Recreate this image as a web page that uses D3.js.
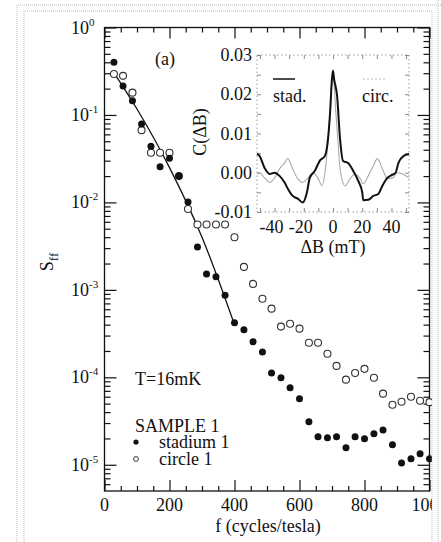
<!DOCTYPE html>
<html>
<head>
<meta charset="utf-8">
<script src="https://cdn.jsdelivr.net/npm/d3@7"></script>
<style>
  body { margin: 0; background: #fff; }
  svg, svg text { font-family: "Liberation Serif", "Times New Roman", "DejaVu Serif", serif; }
  svg text { fill: #111; }
</style>
</head>
<body>
<div id="chart"></div>
<script>
// main panel: power spectrum vs frequency
const freq = [29, 57, 86, 114, 143, 171, 200, 229, 257, 286, 314, 343, 371, 400, 429,
  457, 486, 514, 543, 571, 600, 629, 657, 686, 714, 743, 771, 800, 829, 857,
  886, 914, 943, 971, 1000];
const stadium = [0.40, 0.214, 0.145, 0.079, 0.044, 0.0255, 0.032, 0.020, 0.0101, 0.0031,
  0.00152, 0.00141, 0.00087, 4.2e-4, 3.5e-4, 2.55e-4, 1.95e-4, 1.12e-4, 9.9e-5, 7.6e-5,
  5.7e-5, 3.1e-5, 2.09e-5, 2.04e-5, 2.09e-5, 1.56e-5, 2.09e-5, 1.98e-5, 2.26e-5, 2.5e-5,
  1.69e-5, 1.05e-5, 1.17e-5, 1.34e-5, 1.17e-5];
const circle = [0.294, 0.28, 0.18, 0.067, 0.037, 0.037, 0.037, 0.020, 0.0084, 0.0056,
  0.0056, 0.0056, 0.0056, 0.0040, 0.00183, 0.00117, 7.9e-4, 6.1e-4, 3.8e-4, 4.1e-4,
  3.6e-4, 2.48e-4, 2.48e-4, 1.86e-4, 1.35e-4, 9.4e-5, 1.12e-4, 1.25e-4, 9.9e-5, 6.5e-5,
  4.85e-5, 5.25e-5, 6.0e-5, 5.4e-5, 5.2e-5];
const fitF = [25, 100, 200, 300, 400];
const fitS = [0.32, 0.117, 0.025, 0.0040, 4.0e-4];

const xTicks = [0, 200, 400, 600, 800, 1000];
const yExps = [0, -1, -2, -3, -4, -5];

// inset: correlation function
const stadB = [-52, -50.3, -46.9, -43.4, -40, -36.6, -33.1, -31, -27.6, -24.1, -20.7, -17.9,
  -15.9, -12.4, -9, -5.5, -3.4, -2, -0.7, 0, 0.7, 2.8, 4.8, 6.9, 10.3, 13.8, 17.2, 20,
  20.7, 24.1, 27.6, 31, 33.8, 37.2, 40.7, 42.8, 44.8, 48.3, 52];
const stadC = [0.0048, 0.0043, 0.0013, -0.0003, 0.0, -0.0008, -0.0025, -0.004, -0.0059, -0.0066,
  -0.0076, -0.0051, -0.0013, 0.0005, 0.0031, 0.0043, 0.0087, 0.0153, 0.024, 0.026, 0.024,
  0.0196, 0.0087, 0.003, 0.0025, 0.0005, -0.002, -0.005, -0.007, -0.0069, -0.0059, -0.0054,
  -0.0033, -0.0013, -0.0005, 0.0, 0.0025, 0.0043, 0.0048];
const circB = [-52, -50.3, -46.9, -43.4, -40, -36.6, -33.1, -31, -27.6, -24.1, -20.7, -17.2,
  -13.8, -10.3, -7.6, -5.5, -3.4, -2, -0.7, 0, 0.7, 2, 3.4, 4.8, 8.3, 11.7, 15.2, 18.6,
  20.7, 24.1, 27.6, 30.3, 33.8, 37.2, 40.7, 44.1, 47.6, 52];
const circC = [-0.0003, 0.0, -0.0013, -0.0025, -0.0013, 0.001, 0.0025, 0.0036, 0.001, -0.0015,
  -0.0025, -0.0013, 0.0, -0.0013, -0.0033, 0.0, 0.008, 0.015, 0.023, 0.0255, 0.023, 0.015,
  0.008, 0.001, -0.0033, -0.0015, -0.0003, -0.0015, -0.0028, -0.0008, 0.0018, 0.0036, 0.001,
  -0.0015, -0.0013, 0.0, -0.0003, -0.0013];
const insetXTicks = [-40, -20, 0, 20, 40];
const insetYTicks = [0.03, 0.02, 0.01, 0.00, -0.01];

const W = 441, H = 542;
const FONT = '"Liberation Serif", "Times New Roman", serif';
const svg = d3.select("#chart").append("svg").attr("width", W).attr("height", H)
  .attr("font-family", FONT);

const plot = { left: 104.5, right: 429.5, top: 27.5, bottom: 491 };
const x = d3.scaleLinear().domain([0, 1000]).range([plot.left, plot.right]);
const y = d3.scaleLog().domain([Math.pow(10, -5.3), 1]).range([plot.bottom, plot.top]);

// frame
svg.append("rect")
  .attr("x", plot.left).attr("y", plot.top)
  .attr("width", plot.right - plot.left).attr("height", plot.bottom - plot.top)
  .attr("fill", "none").attr("stroke", "#111").attr("stroke-width", 1.3);

// log minor ticks
const minorY = [];
for (let e = -6; e <= 0; e++) {
  for (let m = 2; m <= 9; m++) {
    const v = m * Math.pow(10, e);
    if (v >= y.domain()[0] && v <= 1) minorY.push(v);
  }
}
const majorY = yExps.map(e => Math.pow(10, e));
const minorX = d3.range(0, 1001, 50).filter(v => v % 200 !== 0);

function tickAxis(axis, g) {
  g.call(axis.tickFormat("").tickSizeOuter(0))
    .call(s => s.select(".domain").remove())
    .call(s => s.selectAll("line").attr("stroke", "#111").attr("stroke-width", 1.2));
}

tickAxis(d3.axisRight(y).tickValues(minorY).tickSize(6),
  svg.append("g").attr("transform", `translate(${plot.left},0)`));
tickAxis(d3.axisRight(y).tickValues(majorY).tickSize(12),
  svg.append("g").attr("transform", `translate(${plot.left},0)`));
tickAxis(d3.axisLeft(y).tickValues(minorY).tickSize(6),
  svg.append("g").attr("transform", `translate(${plot.right},0)`));
tickAxis(d3.axisLeft(y).tickValues(majorY).tickSize(12),
  svg.append("g").attr("transform", `translate(${plot.right},0)`));
tickAxis(d3.axisTop(x).tickValues(minorX).tickSize(5),
  svg.append("g").attr("transform", `translate(0,${plot.bottom})`));
tickAxis(d3.axisTop(x).tickValues(xTicks).tickSize(11),
  svg.append("g").attr("transform", `translate(0,${plot.bottom})`));
tickAxis(d3.axisBottom(x).tickValues(minorX).tickSize(5),
  svg.append("g").attr("transform", `translate(0,${plot.top})`));
tickAxis(d3.axisBottom(x).tickValues(xTicks).tickSize(11),
  svg.append("g").attr("transform", `translate(0,${plot.top})`));

// x tick labels
svg.append("g").selectAll("text").data(xTicks).join("text")
  .attr("x", d => x(d)).attr("y", 511)
  .attr("text-anchor", "middle").attr("font-size", 18)
  .text(d => d);

// y tick labels 10^n
const yl = svg.append("g").selectAll("text").data(yExps).join("text")
  .attr("x", 71).attr("y", d => y(Math.pow(10, d)) + 6)
  .attr("font-size", 18);
yl.append("tspan").text("10");
yl.append("tspan").attr("dy", -8).attr("font-size", 11)
  .text(d => d === 0 ? "0" : "-" + Math.abs(d));

// axis titles
svg.append("text").attr("x", 268).attr("y", 532)
  .attr("text-anchor", "middle").attr("font-size", 18).text("f (cycles/tesla)");
const yt = svg.append("text").attr("transform", "translate(53,262) rotate(-90)")
  .attr("text-anchor", "middle").attr("font-size", 18);
yt.append("tspan").text("S");
yt.append("tspan").attr("dy", 5).attr("font-size", 13).text("ff");

// fit line
svg.append("path")
  .datum(fitF.map((f, i) => [f, fitS[i]]))
  .attr("fill", "none").attr("stroke", "#111").attr("stroke-width", 1.3)
  .attr("d", d3.line().x(d => x(d[0])).y(d => y(d[1])).curve(d3.curveMonotoneX));

// data points
svg.append("g").selectAll("circle").data(freq.map((f, i) => [f, circle[i]])).join("circle")
  .attr("cx", d => x(d[0])).attr("cy", d => y(d[1])).attr("r", 3.5)
  .attr("fill", "#fff").attr("stroke", "#333").attr("stroke-width", 1.1);
svg.append("g").selectAll("circle").data(freq.map((f, i) => [f, stadium[i]])).join("circle")
  .attr("cx", d => x(d[0])).attr("cy", d => y(d[1])).attr("r", 3.5)
  .attr("fill", "#111");

// annotations
svg.append("text").attr("x", 155).attr("y", 65).attr("font-size", 18).text("(a)");
svg.append("text").attr("x", 135).attr("y", 385).attr("font-size", 18).text("T=16mK");
svg.append("text").attr("x", 135).attr("y", 432).attr("font-size", 18).text("SAMPLE 1");
svg.append("circle").attr("cx", 136).attr("cy", 442).attr("r", 2.6).attr("fill", "#111");
svg.append("text").attr("x", 159).attr("y", 448).attr("font-size", 18).text("stadium 1");
svg.append("circle").attr("cx", 136).attr("cy", 459).attr("r", 2.4)
  .attr("fill", "#fff").attr("stroke", "#333");
svg.append("text").attr("x", 159).attr("y", 465).attr("font-size", 18).text("circle 1");

// inset
const ins = { left: 257, right: 409, top: 55, bottom: 212 };
const ix = d3.scaleLinear().domain([-52, 52]).range([ins.left, ins.right]);
const iy = d3.scaleLinear().domain([-0.01, 0.03]).range([ins.bottom, ins.top]);

svg.append("rect")
  .attr("x", ins.left).attr("y", ins.top)
  .attr("width", ins.right - ins.left).attr("height", ins.bottom - ins.top)
  .attr("fill", "none").attr("stroke", "#999").attr("stroke-width", 1)
  .attr("stroke-dasharray", "1.5,2.5");

function insetTicks(axis, g) {
  g.call(axis.tickFormat("").tickSizeOuter(0))
    .call(s => s.select(".domain").remove())
    .call(s => s.selectAll("line").attr("stroke", "#888").attr("stroke-width", 1));
}
const insXMinor = d3.range(-50, 51, 10);
const insYMinor = d3.range(-0.01, 0.0301, 0.005);
insetTicks(d3.axisTop(ix).tickValues(insXMinor).tickSize(4),
  svg.append("g").attr("transform", `translate(0,${ins.bottom})`));
insetTicks(d3.axisBottom(ix).tickValues(insXMinor).tickSize(4),
  svg.append("g").attr("transform", `translate(0,${ins.top})`));
insetTicks(d3.axisRight(iy).tickValues(insYMinor).tickSize(4),
  svg.append("g").attr("transform", `translate(${ins.left},0)`));
insetTicks(d3.axisLeft(iy).tickValues(insYMinor).tickSize(4),
  svg.append("g").attr("transform", `translate(${ins.right},0)`));

svg.append("g").selectAll("text").data(insetYTicks).join("text")
  .attr("x", 252).attr("y", d => iy(d) + 6)
  .attr("text-anchor", "end").attr("font-size", 18)
  .text(d => d.toFixed(2));
svg.append("g").selectAll("text").data(insetXTicks).join("text")
  .attr("x", d => ix(d) - (d < 0 ? 3 : 0)).attr("y", 233)
  .attr("text-anchor", "middle").attr("font-size", 18)
  .text(d => d);
svg.append("text").attr("x", 333).attr("y", 253)
  .attr("text-anchor", "middle").attr("font-size", 18).text("ΔB (mT)");
svg.append("text").attr("transform", "translate(206,132) rotate(-90)")
  .attr("text-anchor", "middle").attr("font-size", 18).text("C(ΔB)");

const iline = d3.line().x(d => ix(d[0])).y(d => iy(d[1])).curve(d3.curveMonotoneX);
svg.append("path").datum(circB.map((b, i) => [b, circC[i]]))
  .attr("fill", "none").attr("stroke", "#aaa").attr("stroke-width", 1.1).attr("d", iline);
svg.append("path").datum(stadB.map((b, i) => [b, stadC[i]]))
  .attr("fill", "none").attr("stroke", "#111").attr("stroke-width", 2).attr("d", iline);

// inset legend
svg.append("line").attr("x1", 273).attr("x2", 295).attr("y1", 79).attr("y2", 79)
  .attr("stroke", "#111").attr("stroke-width", 1.5);
svg.append("text").attr("x", 273).attr("y", 102).attr("font-size", 18).text("stad.");
svg.append("line").attr("x1", 363).attr("x2", 387).attr("y1", 79).attr("y2", 79)
  .attr("stroke", "#bbb").attr("stroke-width", 1).attr("stroke-dasharray", "2,2");
svg.append("text").attr("x", 362).attr("y", 102).attr("font-size", 18).text("circ.");

// page crop + dotted border
svg.append("rect").attr("x", 432).attr("y", 0).attr("width", 9).attr("height", H).attr("fill", "#fff");
const border = svg.append("g").attr("fill", "none").attr("stroke", "#bbb")
  .attr("stroke-width", 1).attr("stroke-dasharray", "1,1");
border.append("path").attr("d", `M17,${H} V5 H441`);
border.append("path").attr("d", `M24,${H} V11 H432 V${H}`);
border.append("path").attr("d", `M438,0 V${H}`);
</script>
</body>
</html>
